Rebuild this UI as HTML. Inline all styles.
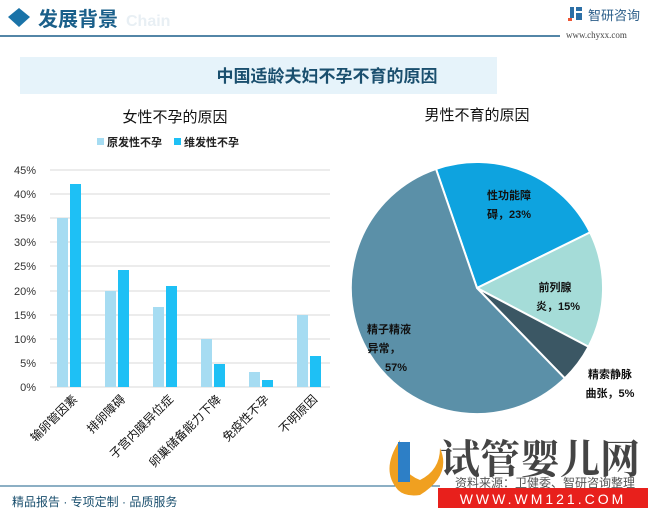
<!DOCTYPE html>
<html><head><meta charset="utf-8"><style>
body{margin:0;width:658px;height:510px;background:#fff;overflow:hidden;font-family:"Liberation Sans","Noto Sans CJK SC",sans-serif;position:relative}
</style></head><body>
<svg width="658" height="510" style="position:absolute;left:0;top:0" font-family="Liberation Sans, Noto Sans CJK SC, sans-serif">
<polygon points="8,17 19,8 30,17 19,27" fill="#1a73a8"/>
<text x="126" y="26" font-size="16" font-weight="bold" fill="#e8eff4">Chain</text>
<text x="38" y="26" font-size="20" font-weight="bold" fill="#1a5f8a">发展背景</text>
<line x1="0" y1="36" x2="560" y2="36" stroke="#1a5f8a" stroke-width="1.5"/>
<rect x="570" y="7" width="4" height="11" fill="#2d6fa6"/><rect x="576" y="7" width="6" height="4" fill="#2d6fa6"/><rect x="576" y="13" width="6" height="7" fill="#2d6fa6"/><rect x="568" y="18" width="4" height="3" fill="#e53"/>
<text x="588" y="20" font-size="13" fill="#2d5f8a">智研咨询</text>
<text x="566" y="38" font-size="9" fill="#444" font-family="Liberation Serif, serif">www.chyxx.com</text>
<rect x="20" y="57" width="477" height="37" fill="#e6f3fa"/>
<text x="327" y="82" font-size="17" font-weight="bold" fill="#1a4f6e" text-anchor="middle">中国适龄夫妇不孕不育的原因</text>
<text x="175" y="122" font-size="15" fill="#111" text-anchor="middle">女性不孕的原因</text>
<rect x="97" y="138" width="7" height="7" fill="#a6dcf2"/><text x="107" y="146" font-size="11" font-weight="bold" fill="#222">原发性不孕</text>
<rect x="174" y="138" width="7" height="7" fill="#1ec0f5"/><text x="184" y="146" font-size="11" font-weight="bold" fill="#222">维发性不孕</text>
<g stroke="#d9d9d9" stroke-width="1">
<line x1="50" y1="170" x2="330" y2="170"/><line x1="50" y1="194" x2="330" y2="194"/><line x1="50" y1="218" x2="330" y2="218"/><line x1="50" y1="242" x2="330" y2="242"/><line x1="50" y1="266" x2="330" y2="266"/><line x1="50" y1="291" x2="330" y2="291"/><line x1="50" y1="315" x2="330" y2="315"/><line x1="50" y1="339" x2="330" y2="339"/><line x1="50" y1="363" x2="330" y2="363"/><line x1="50" y1="387" x2="330" y2="387"/>
</g>
<g font-size="11" fill="#333" text-anchor="end">
<text x="36" y="174">45%</text><text x="36" y="198">40%</text><text x="36" y="222">35%</text><text x="36" y="246">30%</text><text x="36" y="270">25%</text><text x="36" y="295">20%</text><text x="36" y="319">15%</text><text x="36" y="343">10%</text><text x="36" y="367">5%</text><text x="36" y="391">0%</text>
</g>
<g fill="#a6dcf2">
<rect x="57" y="218" width="11" height="169"/><rect x="105" y="291" width="11" height="96"/><rect x="153" y="307" width="11" height="80"/><rect x="201" y="339" width="11" height="48"/><rect x="249" y="372" width="11" height="15"/><rect x="297" y="315" width="11" height="72"/>
</g>
<g fill="#1ec0f5">
<rect x="70" y="184" width="11" height="203"/><rect x="118" y="270" width="11" height="117"/><rect x="166" y="286" width="11" height="101"/><rect x="214" y="364" width="11" height="23"/><rect x="262" y="380" width="11" height="7"/><rect x="310" y="356" width="11" height="31"/>
</g>
<g font-size="12" fill="#111" text-anchor="end">
<text transform="translate(78,400) rotate(-45)">输卵管因素</text>
<text transform="translate(126,400) rotate(-45)">排卵障碍</text>
<text transform="translate(174,400) rotate(-45)">子宫内膜异位症</text>
<text transform="translate(222,400) rotate(-45)">卵巢储备能力下降</text>
<text transform="translate(270,400) rotate(-45)">免疫性不孕</text>
<text transform="translate(318,400) rotate(-45)">不明原因</text>
</g>
<text x="477" y="120" font-size="15" fill="#111" text-anchor="middle">男性不育的原因</text>
<g stroke="#fff" stroke-width="2">
<path d="M477,288 L436,168.9 A126,126 0 0 1 590.1,232.4 Z" fill="#0ea3df"/>
<path d="M477,288 L590.1,232.4 A126,126 0 0 1 588.5,346.8 Z" fill="#a5dcd8"/>
<path d="M477,288 L588.5,346.8 A126,126 0 0 1 564.8,378.3 Z" fill="#3b5764"/>
<path d="M477,288 L564.8,378.3 A126,126 0 1 1 436,168.9 Z" fill="#5b90a8"/>
</g>
<g font-size="11" font-weight="bold" fill="#111" text-anchor="middle">
<text x="509" y="199">性功能障</text><text x="509" y="218">碍，23%</text>
<text x="555" y="291">前列腺</text><text x="558" y="310">炎，15%</text>
<text x="389" y="333">精子精液</text><text x="384" y="352">异常，</text><text x="396" y="371">57%</text>
<text x="610" y="378">精索静脉</text><text x="610" y="397">曲张，5%</text>
</g>
<line x1="0" y1="486" x2="440" y2="486" stroke="#1a5f8a" stroke-width="1"/>
<text x="12" y="506" font-size="12" fill="#1a4f6e">精品报告 · 专项定制 · 品质服务</text>
<path d="M398,490 Q380,470 400,440 Q395,470 420,480 Q440,470 440,448 Q452,475 420,495 Q405,497 398,490Z" fill="#f0a020"/>
<rect x="398" y="442" width="12" height="40" fill="#2d7fc6"/>
<text x="440" y="473" font-size="40" font-weight="bold" fill="#444" font-family="Liberation Serif, Noto Serif CJK SC, serif">试管婴儿网</text>
<text x="455" y="487" font-size="12" fill="#555">资料来源：卫健委、智研咨询整理</text>
<rect x="438" y="488" width="210" height="20" fill="#e8201c"/>
<text x="543" y="504" font-size="14" fill="#fff" text-anchor="middle" letter-spacing="3">WWW.WM121.COM</text>
</svg>
</body></html>
